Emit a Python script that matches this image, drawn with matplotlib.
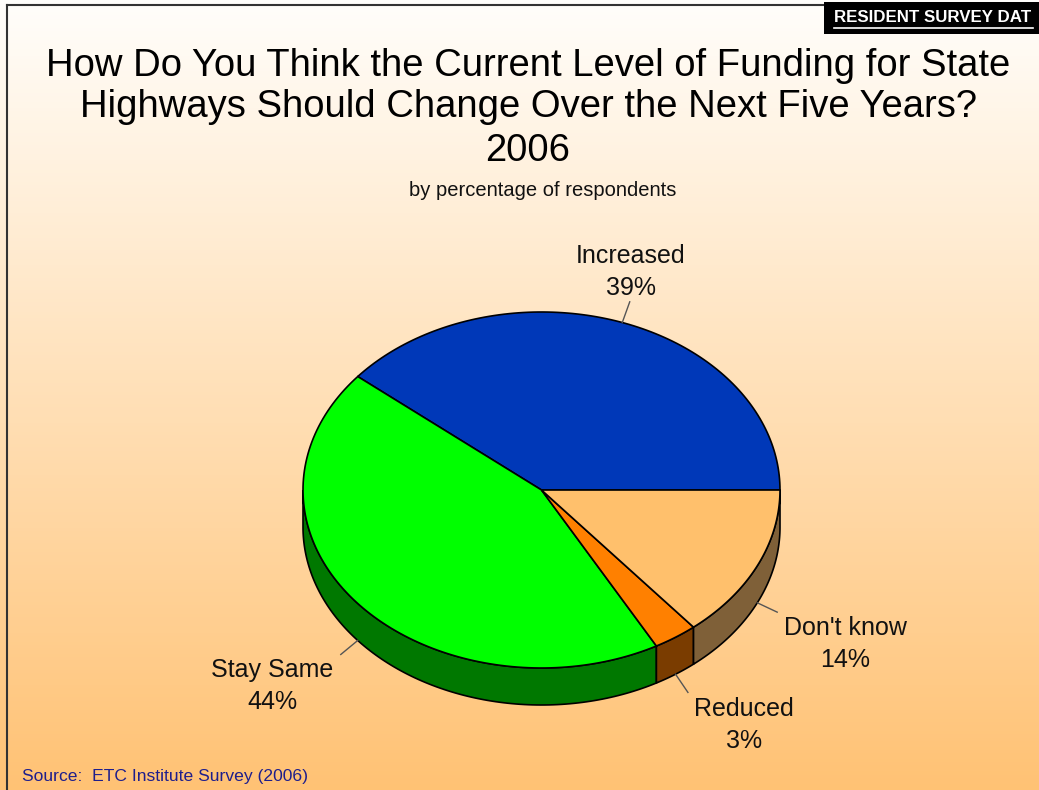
import numpy as np
import matplotlib
matplotlib.use("Agg")
import matplotlib.pyplot as plt
from matplotlib.patches import Polygon, Rectangle

plt.rcParams['font.family'] = ['Liberation Sans', 'DejaVu Sans']

# survey answers, counter-clockwise from 3 o'clock
labels = ["Increased", "Stay Same", "Reduced", "Don't know"]
shares = [39, 44, 3, 14]
top_colors = ["#0038B8", "#00FF00", "#FF8000", "#FFC06C"]
side_colors = ["#001C5C", "#007800", "#7A3C00", "#7F6038"]
label_pos = [(631, 272), (272, 686), (744, 725), (845, 644)]

title_lines = ["How Do You Think the Current Level of Funding for State",
               "Highways Should Change Over the Next Five Years?",
               "2006"]
subtitle = "by percentage of respondents"
source = "Source:  ETC Institute Survey (2006)"
badge = "RESIDENT SURVEY DAT"

W, H = 1039, 790
fig = plt.figure(figsize=(W / 100, H / 100), dpi=100)
ax = fig.add_axes([0, 0, 1, 1])
ax.set_xlim(0, W)
ax.set_ylim(H, 0)
ax.axis("off")

# white-to-orange background
t = np.linspace(0, 1, 256)[:, None]
top = np.array([255, 254, 251]) / 255
bot = np.array([255, 194, 116]) / 255
grad = top + (bot - top) * t[..., None]
grad = np.repeat(grad, 2, axis=1)
ax.imshow(grad, extent=(0, W, H, 0), aspect="auto", zorder=0)

# frame lines
ax.plot([7, 7], [H, 5], color="#333333", lw=1.5, zorder=1)
ax.plot([7, 824], [5, 5], color="#333333", lw=1.5, zorder=1)

# 3D pie
cx, cy, rx, ry, depth = 541.5, 490, 238.5, 178, 37


def arc(a0, a1, dy=0, n=120):
    a = np.radians(np.linspace(a0, a1, n))
    return np.column_stack([cx + rx * np.cos(a), cy - ry * np.sin(a) + dy])


bounds = np.concatenate([[0], np.cumsum(shares)]) * 3.6

# side walls of the front half
for i in range(len(shares)):
    a0, a1 = max(bounds[i], 180), min(bounds[i + 1], 360)
    if a1 <= a0:
        continue
    pts = np.vstack([arc(a0, a1), arc(a1, a0, depth)])
    ax.add_patch(Polygon(pts, closed=True, facecolor=side_colors[i],
                         edgecolor="black", lw=1.2, zorder=2))

# top faces
for i in range(len(shares)):
    pts = np.vstack([[cx, cy], arc(bounds[i], bounds[i + 1])])
    ax.add_patch(Polygon(pts, closed=True, facecolor=top_colors[i],
                         edgecolor="black", lw=1.2, zorder=3))

# labels with leader lines
for i, (lab, val) in enumerate(zip(labels, shares)):
    mid = (bounds[i] + bounds[i + 1]) / 2
    p = arc(mid, mid, n=1)[0]
    if 180 < mid < 360:
        p = p + [0, depth]
    d = np.array([np.cos(np.radians(mid)), -np.sin(np.radians(mid))])
    q = p + d * 22
    ax.plot([p[0], q[0]], [p[1], q[1]], color="#555555", lw=1, zorder=4)
    lx, ly = label_pos[i]
    ax.text(lx, ly, f"{lab}\n{val}%", ha="center", va="center",
            fontsize=18, linespacing=1.38, color="#111111", zorder=5)

# titles
for y, line in zip([66, 107, 151], title_lines):
    ax.text(528, y, line, ha="center", va="center", fontsize=27.5, color="black")
ax.text(543, 190, subtitle, ha="center", va="center", fontsize=14.5, color="#111111")

# source note
ax.text(22, 777, source, ha="left", va="center", fontsize=12.6, color="#1E1E8C")

# badge in the top right corner
ax.add_patch(Rectangle((824, 2), 230, 32, facecolor="black", edgecolor="none", zorder=6))
ax.text(834, 17, badge, ha="left", va="center", fontsize=12.2, fontweight="bold",
        color="white", zorder=7)
ax.plot([834, 1033], [28, 28], color="white", lw=1.2, zorder=7)

fig.savefig("out.png", dpi=100)
